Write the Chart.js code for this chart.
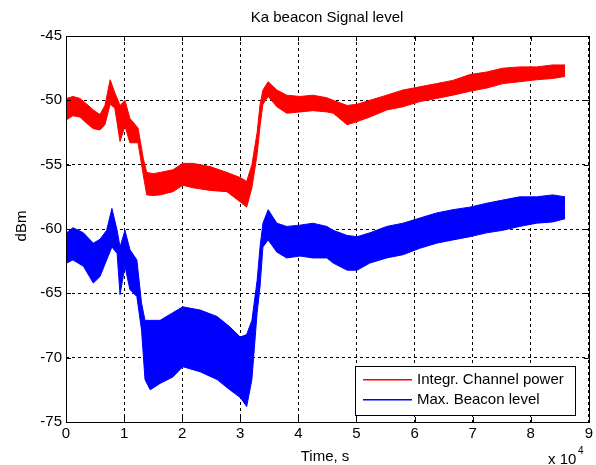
<!DOCTYPE html>
<html><head><meta charset="utf-8">
<script src="https://cdn.jsdelivr.net/npm/chart.js@4/dist/chart.umd.min.js"></script>
<style>html,body{margin:0;padding:0;background:#fff}</style>
</head><body>
<canvas id="c" width="596" height="465"></canvas>
<script>
const chartTitle = 'Ka beacon Signal level';
const xLabel = 'Time, s';
const yLabel = 'dBm';
const seriesNames = ['Integr. Channel power', 'Max. Beacon level'];
const seriesColors = ['rgb(255,0,0)', 'rgb(0,0,255)'];
const xTickValues = [0, 1, 2, 3, 4, 5, 6, 7, 8, 9];   // x 10^4 s
const yTickValues = [-75, -70, -65, -60, -55, -50, -45];

// Integr. Channel power (time in 10^4 s), noise envelope
const redTime  = [0.01,0.12,0.24,0.36,0.47,0.585,0.67,0.76,0.84,0.93,1.015,1.1,1.24,1.33,1.39,1.5,1.62,1.84,2.01,2.19,2.48,2.77,3.0,3.11,3.2,3.29,3.34,3.39,3.48,3.63,3.8,4.03,4.25,4.49,4.6,4.84,5.01,5.23,5.52,5.8,6.09,6.38,6.66,6.95,7.24,7.52,7.81,8.1,8.38,8.59];
const redUpper = [-49.85,-49.7,-49.85,-50.3,-50.75,-51.1,-50.4,-48.4,-49.4,-50.4,-50.0,-51.4,-52.15,-54.5,-55.6,-55.7,-55.6,-55.4,-54.9,-54.9,-55.15,-55.6,-56.0,-56.3,-55.0,-52.5,-50.35,-49.2,-48.55,-49.2,-49.6,-49.7,-49.6,-49.8,-50.0,-50.4,-50.3,-50.0,-49.6,-49.2,-48.95,-48.7,-48.45,-48.0,-47.8,-47.5,-47.4,-47.4,-47.25,-47.25];
const redLower = [-51.5,-51.2,-51.3,-51.8,-52.2,-52.3,-51.9,-50.3,-50.6,-53.2,-52.0,-53.3,-53.3,-55.8,-57.35,-57.4,-57.35,-57.1,-56.6,-56.8,-57.0,-57.1,-57.9,-58.3,-56.8,-54.2,-52.0,-50.3,-49.7,-50.5,-51.0,-50.9,-50.8,-50.9,-51.0,-51.9,-51.65,-51.3,-50.75,-50.5,-50.1,-49.85,-49.6,-49.3,-49.05,-48.7,-48.55,-48.4,-48.3,-48.15];

// Max. Beacon level
const blueTime  = [0.01,0.12,0.3,0.47,0.585,0.7,0.79,0.88,0.93,1.015,1.1,1.22,1.3,1.36,1.45,1.62,1.84,2.01,2.31,2.6,2.82,3.0,3.11,3.2,3.29,3.34,3.39,3.48,3.63,3.8,4.03,4.25,4.49,4.6,4.84,5.01,5.23,5.52,5.8,6.09,6.38,6.66,6.95,7.24,7.52,7.81,8.1,8.38,8.59];
const blueUpper = [-60.3,-59.9,-60.3,-61.1,-60.8,-60.1,-58.4,-60.1,-61.4,-60.1,-61.6,-62.4,-65.75,-67.1,-67.1,-67.1,-66.5,-66.05,-66.3,-66.8,-67.6,-68.4,-68.2,-67.1,-64.0,-61.4,-59.55,-58.5,-59.55,-59.8,-59.7,-59.55,-59.8,-60.1,-60.5,-60.6,-60.3,-59.8,-59.55,-59.15,-58.75,-58.5,-58.3,-58.0,-57.75,-57.5,-57.5,-57.35,-57.5];
const blueLower = [-62.65,-62.4,-62.9,-64.2,-63.7,-62.4,-61.4,-61.9,-65.1,-62.9,-64.7,-65.25,-67.85,-71.7,-72.5,-72.0,-71.5,-70.7,-71.1,-71.7,-72.5,-73.1,-73.8,-71.7,-66.5,-64.5,-61.4,-60.85,-61.8,-62.25,-62.1,-62.25,-62.25,-62.65,-63.2,-63.2,-62.65,-62.25,-62.0,-61.5,-61.1,-60.85,-60.6,-60.3,-60.1,-59.8,-59.55,-59.45,-59.2];

const FONT = '"Liberation Sans", Arial, sans-serif';

function pts(t, v) { return t.map((x, i) => ({ x: x, y: v[i] })); }
function band(name, color, t, up, lo) {
  return [
    { label: name, data: pts(t, up), borderColor: color, backgroundColor: color, borderWidth: 1, pointRadius: 0, fill: '+1', tension: 0 },
    { label: name + ' (lower)', data: pts(t, lo), borderColor: color, backgroundColor: color, borderWidth: 1, pointRadius: 0, fill: false, tension: 0 }
  ];
}

const decor = {
  id: 'decor',
  afterDraw(chart) {
    const ctx = chart.ctx, a = chart.chartArea;
    const xs = chart.scales.x, ys = chart.scales.y;
    ctx.save();
    ctx.setLineDash([]);
    // frame
    ctx.strokeStyle = '#000'; ctx.lineWidth = 1;
    ctx.strokeRect(Math.round(a.left) + 0.5, Math.round(a.top) + 0.5, Math.round(a.right - a.left), Math.round(a.bottom - a.top));
    // inward ticks
    ctx.beginPath();
    xTickValues.forEach(v => {
      const px = Math.round(xs.getPixelForValue(v)) + 0.5;
      ctx.moveTo(px, a.bottom); ctx.lineTo(px, a.bottom - 5);
      ctx.moveTo(px, a.top); ctx.lineTo(px, a.top + 5);
    });
    yTickValues.forEach(v => {
      const py = Math.round(ys.getPixelForValue(v)) + 0.5;
      ctx.moveTo(a.left, py); ctx.lineTo(a.left + 5, py);
      ctx.moveTo(a.right, py); ctx.lineTo(a.right - 5, py);
    });
    ctx.stroke();
    // texts
    ctx.fillStyle = '#000';
    ctx.font = '15px ' + FONT;
    ctx.textAlign = 'center'; ctx.textBaseline = 'middle';
    ctx.fillText(chartTitle, 327, 18);
    ctx.fillText(xLabel, 325, 457);
    ctx.save();
    ctx.translate(22, 226); ctx.rotate(-Math.PI / 2);
    ctx.fillText(yLabel, 0, 0);
    ctx.restore();
    ctx.textAlign = 'left';
    ctx.fillText('x 10', 548, 460);
    ctx.font = '10px ' + FONT;
    ctx.fillText('4', 578, 451);
    // legend
    const lx = 355, ly = 366, lw = 220, lh = 49;
    ctx.fillStyle = '#fff';
    ctx.fillRect(lx, ly, lw, lh);
    ctx.strokeStyle = '#000';
    ctx.strokeRect(lx + 0.5, ly + 0.5, lw, lh);
    ctx.font = '15px ' + FONT;
    seriesNames.forEach((n, i) => {
      const y = 379 + i * 20;
      ctx.fillStyle = seriesColors[i];
      ctx.fillRect(363, y, 49, 1.5);
      ctx.fillStyle = '#000'; ctx.textAlign = 'left'; ctx.textBaseline = 'middle';
      ctx.fillText(n, 417, y + 1);
    });
    ctx.restore();
  }
};

new Chart(document.getElementById('c'), {
  type: 'line',
  data: {
    datasets: [
      ...band(seriesNames[0], seriesColors[0], redTime, redUpper, redLower),
      ...band(seriesNames[1], seriesColors[1], blueTime, blueUpper, blueLower)
    ]
  },
  options: {
    responsive: false,
    animation: false,
    devicePixelRatio: 1,
    layout: { padding: { top: 36, right: 7, left: 0, bottom: 0 } },
    plugins: { legend: { display: false }, tooltip: { enabled: false }, title: { display: false } },
    scales: {
      x: {
        type: 'linear', min: 0, max: 9,
        afterFit(s) { s.height = 43; },
        afterBuildTicks(s) { s.ticks = xTickValues.map(v => ({ value: v })); },
        ticks: { color: '#000', font: { family: FONT, size: 15 }, padding: 3, maxRotation: 0, callback: v => String(v) },
        grid: { color: '#000', lineWidth: 1, drawTicks: false },
        border: { display: false, dash: [3, 3] }
      },
      y: {
        type: 'linear', min: -75, max: -45,
        afterFit(s) { s.width = 66; },
        afterBuildTicks(s) { s.ticks = yTickValues.map(v => ({ value: v })); },
        ticks: { color: '#000', font: { family: FONT, size: 15 }, padding: 4, callback: v => String(v) },
        grid: { color: '#000', lineWidth: 1, drawTicks: false },
        border: { display: false, dash: [3, 3] }
      }
    }
  },
  plugins: [decor]
});
</script>
</body></html>
